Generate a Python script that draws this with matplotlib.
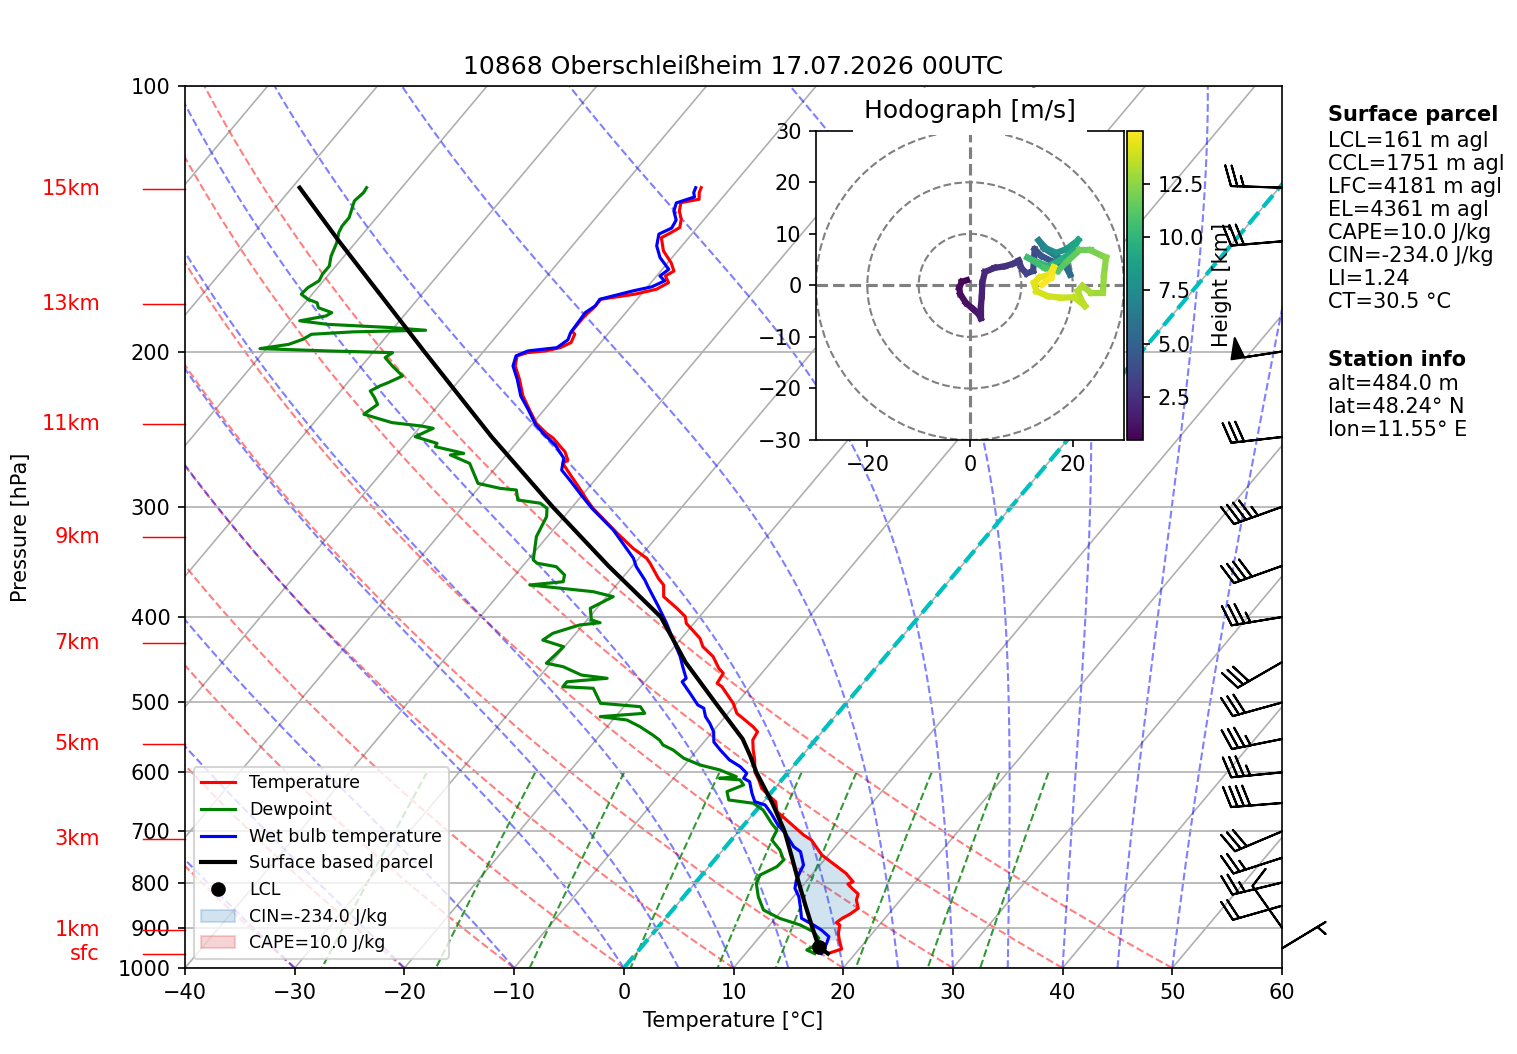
import numpy as np
import matplotlib
matplotlib.use('Agg')
import matplotlib.pyplot as plt
from matplotlib.transforms import Affine2D, blended_transform_factory
from matplotlib.collections import LineCollection
from matplotlib.ticker import FixedLocator, ScalarFormatter, NullLocator, MultipleLocator
from matplotlib.patches import Patch, Circle

# ---------------- data ----------------
title = '10868 Oberschleißheim 17.07.2026 00UTC'

# Temperature profile (hPa, degC)
temp_p = [963, 951.6, 929.5, 913.4, 893.9, 888.5, 878.4, 868.6, 855.8, 837.4, 824.4, 812.2, 803.2, 798.4,
          781.0, 767.6, 744.5, 716.0, 706.6, 676.5, 664.9, 647.7, 639.3, 625.5, 612.0, 598.9, 580.9, 566.0,
          551.5, 539.7, 532.6, 514.3, 501.0, 479.8, 475.5, 463.3, 457.2, 443.6, 432.2, 422.9, 406.6, 399.6,
          391.0, 379.3, 367.9, 361.5, 347.6, 343.1, 334.3, 321.4, 301.2, 294.7, 288.4, 272.5, 267.8, 265.5,
          259.8, 256.4, 250.8, 247.6, 241.2, 233.6, 224.6, 215.0, 207.7, 202.3, 200.6, 199.7, 198.0, 195.4,
          191.2, 189.6, 182.3, 178.4, 174.5, 172.2, 170.0, 167.1, 164.2, 162.1, 158.6, 153.8, 148.6, 146.6,
          144.7, 141.6, 138.6, 135.6, 134.4, 132.1, 130.4]
temp_t = [17.5, 18.4, 17.5, 16.9, 16.4, 15.9, 16.1, 16.5, 16.8, 16.0, 15.7, 14.7, 14.0, 14.3,
          13.0, 11.7, 9.4, 7.3, 6.2, 3.2, 2.0, 1.1, 0.2, -1.2, -2.1, -3.1, -4.0, -4.9,
          -5.7, -5.9, -6.7, -9.2, -10.3, -12.6, -13.3, -13.5, -14.3, -15.7, -17.4, -18.3, -20.7, -21.3,
          -22.7, -24.8, -25.7, -26.7, -28.6, -29.3, -31.3, -33.9, -38.0, -39.2, -40.3, -43.3, -44.2, -44.0,
          -44.9, -45.7, -47.0, -48.0, -49.7, -51.2, -53.0, -54.6, -56.0, -56.6, -55.9, -54.4, -53.3, -52.7,
          -53.0, -53.5, -53.5, -53.3, -53.3, -50.6, -49.0, -48.4, -49.2, -48.8, -49.7, -51.3, -52.5, -52.0,
          -51.6, -52.1, -52.9, -53.4, -52.0, -52.5, -52.7]

# Dewpoint profile
dew_p = [963, 954.1, 945.9, 925.4, 909.5, 893.9, 878.4, 859.6, 830.2, 801.7, 784.5, 767.6, 754.4, 735.0,
         716.0, 697.6, 685.5, 662.0, 650.5, 644.9, 631.0, 620.1, 612.0, 609.4, 606.8, 596.3, 588.6, 578.3,
         566.0, 558.7, 551.5, 544.3, 532.6, 523.4, 518.8, 514.3, 505.5, 501.0, 481.8, 479.8, 473.7, 469.4,
         465.4, 455.4, 451.3, 439.7, 432.2, 424.8, 417.4, 408.4, 406.0, 403.1, 391.0, 379.3, 374.4, 367.9,
         364.8, 358.4, 350.7, 347.6, 344.6, 324.3, 313.2, 307.8, 301.2, 297.2, 294.7, 287.1, 285.9, 282.2,
         267.8, 262.0, 260.9, 256.4, 254.2, 249.8, 244.4, 242.9, 240.8, 235.6, 229.6, 225.6, 221.7, 218.8,
         216.9, 213.2, 207.7, 203.2, 200.6, 199.7, 198.5, 196.3, 193.7, 191.2, 190.0, 189.2, 187.9, 186.3,
         184.6, 182.3, 180.7, 178.4, 176.1, 174.5, 172.2, 169.3, 166.3, 163.4, 160.0, 155.9, 150.6, 146.6,
         144.1, 141.0, 135.0, 132.1, 130.4]
dew_t = [16.3, 15.3, 15.6, 15.5, 14.5, 12.8, 10.4, 8.3, 6.8, 5.6, 5.3, 6.2, 6.3, 5.2,
         3.7, 3.4, 2.4, 0.6, -0.8, -3.3, -4.1, -3.1, -3.8, -5.8, -4.4, -6.4, -8.6, -10.6,
         -12.2, -13.5, -14.2, -15.2, -17.0, -18.7, -21.4, -17.6, -18.5, -22.4, -24.2, -27.1, -27.1, -23.7,
         -26.3, -28.6, -30.4, -30.2, -30.1, -32.5, -32.1, -30.3, -28.6, -29.6, -30.6, -29.4, -31.6, -37.9,
         -35.1, -35.5, -36.9, -38.9, -39.5, -41.0, -41.4, -41.6, -42.2, -43.2, -45.5, -46.4, -48.0, -50.4,
         -52.7, -55.1, -54.0, -57.1, -57.2, -59.7, -58.7, -60.0, -62.9, -66.1, -65.6, -66.4, -67.3, -66.8,
         -66.3, -65.5, -67.2, -68.5, -68.2, -74.2, -80.6, -78.3, -77.4, -77.0, -73.4, -66.9, -70.2, -76.3,
         -79.1, -77.1, -76.8, -78.4, -78.9, -80.0, -81.0, -80.9, -80.4, -80.6, -80.6, -81.2, -81.7, -82.3,
         -82.5, -82.5, -83.3, -83.1, -83.2]

# Wet bulb temperature profile
wb_p = [963, 937.6, 921.5, 905.5, 893.9, 878.4, 852.2, 830.2, 812.2, 794.9, 777.8, 764.3, 738.1, 728.6,
        703.5, 688.4, 668.0, 653.4, 647.7, 633.7, 614.8, 609.4, 601.5, 591.2, 580.9, 566.0, 554.3, 539.7,
        527.9, 518.8, 507.6, 503.2, 488.1, 473.7, 469.4, 455.4, 443.6, 424.8, 406.6, 389.4, 369.5, 363.1,
        350.7, 343.1, 318.7, 301.2, 290.9, 279.7, 272.5, 264.3, 255.3, 247.6, 241.8, 232.6, 224.6, 215.0,
        207.7, 202.3, 199.7, 198.0, 194.0, 190.4, 180.7, 177.5, 174.5, 170.7, 168.9, 166.3, 164.2, 161.4,
        156.5, 151.8, 147.2, 144.9, 141.9, 138.6, 135.7, 133.6, 132.1, 130.4]
wb_t = [16.9, 16.6, 16.3, 15.1, 14.0, 12.4, 11.4, 10.5, 9.5, 9.0, 8.7, 8.5, 7.2, 6.2,
        4.4, 3.1, 1.6, 0.4, -0.8, -1.7, -2.8, -3.6, -3.7, -4.8, -6.3, -7.9, -9.1, -9.9,
        -10.9, -11.8, -12.6, -13.4, -15.0, -16.6, -16.5, -17.7, -18.7, -20.6, -22.5, -24.5, -27.0, -27.8,
        -29.6, -30.5, -34.5, -38.1, -40.1, -42.3, -43.8, -44.5, -46.3, -48.3, -49.7, -51.5, -53.2, -54.8,
        -56.2, -56.7, -56.0, -53.6, -53.2, -53.5, -53.7, -53.3, -53.4, -51.0, -49.6, -48.9, -49.7, -49.4,
        -51.1, -52.3, -53.0, -52.3, -52.5, -53.4, -53.8, -52.6, -53.0, -53.2]

# Surface based parcel
parcel_p = [963, 947.4, 900, 850, 800, 750, 700, 650, 600, 575, 550, 500, 450, 400, 350, 300, 250, 200, 150, 130.4]
parcel_t = [17.5, 16.2, 14.1, 11.8, 9.4, 6.9, 4.2, 0.9, -2.9, -4.7, -6.7, -12.0, -17.8, -23.5, -32.2,
            -41.8, -52.7, -65.4, -81.6, -89.3]

lcl_p, lcl_t = 947.4, 16.2
lfc_p, el_p = 583.0, 570.0

# Wind barbs (knots)
barb_p = [950, 900, 850, 800, 750, 700, 650, 600, 550, 500, 450, 400, 350, 300, 250, 200, 150, 130.4]
barb_u = [-4.3, 5.8, 19.2, 24.3, 23.8, 27.7, 39.9, 34.8, 34.3, 28.9, 26.0, 34.5, 37.7, 42.4, 29.8, 49.4, 29.9, 25.0]
barb_v = [-2.6, -8.2, 5.5, 5.9, 7.7, 11.7, 3.2, 3.4, 6.9, 8.0, 15.0, 5.7, 13.5, 15.2, 3.4, 7.6, 2.5, -0.8]

# Height markers on the left
km_labels = ['sfc', '1km', '3km', '5km', '7km', '9km', '11km', '13km', '15km']
km_p = [962.9, 906.6, 715.0, 557.8, 428.6, 324.9, 241.9, 176.8, 130.9]

# Hodograph (m/s) and height (km)
hodo_h = [0.48, 0.6, 0.75, 0.9, 1.05, 1.2, 1.35, 1.5, 1.65, 1.8, 1.95, 2.1, 2.3, 2.5, 2.7, 2.9, 3.05, 3.2,
          3.5, 3.8, 4.1, 4.5, 4.9, 5.3, 5.7, 6.1, 6.5, 6.9, 7.3, 7.7, 8.1, 8.5, 8.9, 9.2, 9.5, 9.8, 10.1,
          10.4, 10.7, 11.0, 11.3, 11.6, 11.9, 12.2, 12.4, 12.6, 12.8, 13.0, 13.2, 13.3, 13.4, 13.5, 13.6,
          13.8, 13.95, 14.1, 14.25, 14.4, 14.55, 14.7, 14.85, 15.0]
hodo_u = [-0.6, -1.6, -2.1, -1.9, -0.8, 0.6, 1.7, 2.1, 2.1, 2.3, 2.4, 2.9, 4.8, 6.8, 8.4, 9.5, 10.0, 11.0,
          12.3, 12.6, 13.9, 16.1, 18.4, 19.5, 18.7, 16.5, 14.4, 13.4, 14.8, 16.8, 18.7, 20.0, 21.1, 19.7,
          17.7, 15.2, 12.9, 11.2, 14.5, 17.1, 19.0, 21.3, 23.5, 25.8, 26.5, 26.1, 25.9, 23.5, 21.9, 21.0,
          21.7, 22.4, 20.3, 17.7, 15.2, 12.9, 12.5, 13.5, 15.5, 16.3, 15.8, 14.0]
hodo_v = [1.0, 0.7, -0.5, -1.7, -3.4, -4.6, -5.6, -6.4, -4.3, -2.1, 0.5, 2.6, 3.4, 3.7, 4.2, 4.8, 3.4, 2.3,
          2.8, 7.0, 5.7, 4.6, 4.1, 2.1, 4.4, 5.9, 7.2, 8.7, 7.2, 6.3, 7.0, 7.9, 8.8, 6.3, 5.0, 3.7, 4.6,
          5.4, 3.4, 2.8, 4.7, 6.8, 6.8, 5.7, 5.4, 2.1, -1.4, -1.4, -0.1, -1.1, -2.9, -4.0, -2.3, -2.4,
          -2.1, -1.1, 0.5, 1.5, 2.1, 3.5, 1.5, 0.1]

surface_lines = ['LCL=161 m agl', 'CCL=1751 m agl', 'LFC=4181 m agl', 'EL=4361 m agl',
                 'CAPE=10.0 J/kg', 'CIN=-234.0 J/kg', 'LI=1.24', 'CT=30.5 °C']
station_lines = ['alt=484.0 m', 'lat=48.24° N', 'lon=11.55° E']
cape_label = 'CAPE=10.0 J/kg'
cin_label = 'CIN=-234.0 J/kg'

# Background line sets (standard skew-T furniture)
dry_t0 = np.arange(-50, 51, 10)
moist_t0 = np.concatenate((np.arange(-50, 0, 10), np.arange(0, 51, 5))).astype(float)
mix_w = np.array([0.0004, 0.001, 0.002, 0.004, 0.007, 0.01, 0.016, 0.024, 0.032])

# ---------------- figure ----------------
DPI = 150
W, H = 1517, 1054
fig = plt.figure(figsize=(W / DPI, H / DPI), dpi=DPI)


def rect(x0, y0, x1, y1):
    return [x0 / W, 1 - y1 / H, (x1 - x0) / W, (y1 - y0) / H]


ax = fig.add_axes(rect(185, 86, 1282, 968))
ax.set_yscale('log')
ax.set_xlim(-40, 60)
ax.set_ylim(1000, 100)
ax.yaxis.set_major_locator(FixedLocator(np.arange(100, 1001, 100)))
ax.yaxis.set_major_formatter(ScalarFormatter())
ax.yaxis.set_minor_locator(NullLocator())
ax.xaxis.set_major_locator(MultipleLocator(10))
ax.yaxis.grid(True, color='#b0b0b0', lw=0.8)

SKEW = 0.6754
skew_tr = ax.transScale + (ax.transLimits + Affine2D(np.array([[1., SKEW, 0.], [0., 1., 0.], [0., 0., 1.]]))) + ax.transAxes

# skewed isotherm grid
for t in range(-110, 61, 10):
    ax.plot([t, t], [1000, 100], color='#b0b0b0', lw=0.8, transform=skew_tr, zorder=1)

# dry adiabats
p_ad = np.linspace(1000, 100, 181)
segs = [np.column_stack([(t0 + 273.15) * (p_ad / 1000.) ** 0.28571 - 273.15, p_ad]) for t0 in dry_t0]
ax.add_collection(LineCollection(segs, colors='r', linestyles='dashed', alpha=0.5, linewidths=1,
                                 transform=skew_tr, zorder=1.1), autolim=False)

# moist adiabats
RD, LV, CPD, EPS = 287.04749, 2.50084e6, 1004.6662, 0.6219569


def _es(tk):
    tc = tk - 273.15
    return 6.112 * np.exp(17.67 * tc / (tc + 243.5))


def _dtdp(p, tk):
    e = _es(tk)
    rs = EPS * e / (p - e)
    return (RD * tk + LV * rs) / (CPD + LV * LV * rs * EPS / (RD * tk * tk)) / p


p_m = np.linspace(1000, 100, 451)
tk = moist_t0 + 273.15
prof = [tk]
for i in range(len(p_m) - 1):
    p0 = p_m[i]
    h = p_m[i + 1] - p0
    k1 = _dtdp(p0, tk)
    k2 = _dtdp(p0 + h / 2, tk + h / 2 * k1)
    k3 = _dtdp(p0 + h / 2, tk + h / 2 * k2)
    k4 = _dtdp(p0 + h, tk + h * k3)
    tk = tk + h / 6 * (k1 + 2 * k2 + 2 * k3 + k4)
    prof.append(tk)
prof = np.array(prof) - 273.15
segs = [np.column_stack([prof[:, j], p_m]) for j in range(prof.shape[1])]
ax.add_collection(LineCollection(segs, colors='b', linestyles='dashed', alpha=0.5, linewidths=1,
                                 transform=skew_tr, zorder=1.1), autolim=False)

# mixing ratio lines
p_mix = np.linspace(600, 1000, 50)
e_mix = p_mix[None, :] * mix_w[:, None] / (0.622 + mix_w[:, None])
lne = np.log(e_mix / 6.112)
td_mix = 243.5 * lne / (17.67 - lne)
segs = [np.column_stack([td_mix[j], p_mix]) for j in range(len(mix_w))]
ax.add_collection(LineCollection(segs, colors='g', linestyles='dashed', alpha=0.8, linewidths=1,
                                 transform=skew_tr, zorder=1.1), autolim=False)

# 0 degC isotherm
ax.plot([0, 0], [1000, 100], color='c', ls='--', lw=2, transform=skew_tr, zorder=1.5)

# CIN / CAPE shading
tp = np.array(temp_p)
tt = np.array(temp_t)
pp = np.array(parcel_p)
pt = np.array(parcel_t)
par_on_t = np.interp(-np.log(tp), -np.log(pp), pt)
sel = (tp <= lcl_p) & (tp >= lfc_p)
ax.fill_betweenx(tp[sel], par_on_t[sel], tt[sel], where=tt[sel] >= par_on_t[sel], interpolate=True,
                 color='tab:blue', alpha=0.2, lw=0, transform=skew_tr, zorder=1.8)
sel2 = (tp <= lfc_p + 15) & (tp >= el_p - 15)
ax.fill_betweenx(tp[sel2], par_on_t[sel2], tt[sel2], where=par_on_t[sel2] > tt[sel2], interpolate=True,
                 color='tab:red', alpha=0.2, lw=0, transform=skew_tr, zorder=1.8)

# profiles
l_t, = ax.plot(temp_t, temp_p, color='r', lw=1.5, transform=skew_tr)
l_td, = ax.plot(dew_t, dew_p, color='g', lw=1.5, transform=skew_tr)
l_wb, = ax.plot(wb_t, wb_p, color='b', lw=1.5, transform=skew_tr)
l_par, = ax.plot(parcel_t, parcel_p, color='k', lw=2, transform=skew_tr)
l_lcl, = ax.plot([lcl_t], [lcl_p], 'ko', ms=6, transform=skew_tr)

# wind barbs at right edge
bt = blended_transform_factory(ax.transAxes, ax.transData)
ax.barbs(np.ones(len(barb_p)), barb_p, barb_u, barb_v, transform=bt, clip_on=False, length=7, zorder=5)

# height markers
for lab, pk in zip(km_labels, km_p):
    ax.text(-0.0775, pk, lab, transform=bt, ha='right', va='center', color='red', fontsize=10, clip_on=False)
    ax.plot([-0.0383, 0], [pk, pk], transform=bt, color='red', lw=0.7, clip_on=False)

ax.set_title(title)
ax.set_xlabel('Temperature [°C]')
ax.set_ylabel('Pressure [hPa]')
ax.yaxis.set_label_coords(-0.1400, 0.5)

handles = [l_t, l_td, l_wb, l_par, l_lcl,
           Patch(color='tab:blue', alpha=0.2), Patch(color='tab:red', alpha=0.2)]
labels = ['Temperature', 'Dewpoint', 'Wet bulb temperature', 'Surface based parcel', 'LCL',
          cin_label, cape_label]
ax.legend(handles, labels, loc='lower left', fontsize='small')

# ---------------- hodograph ----------------
hax = fig.add_axes(rect(816, 130.7, 1124, 440))
hax.set_xlim(-30, 30)
hax.set_ylim(-30, 30)
for r in (10, 20, 30):
    hax.add_patch(Circle((0, 0), r, fill=False, color='grey', ls='--', lw=1))
hax.axhline(0, color='grey', ls='--')
hax.axvline(0, color='grey', ls='--')
hu = np.array(hodo_u)
hv = np.array(hodo_v)
hh = np.array(hodo_h)
norm = plt.Normalize(hh.min(), hh.max())
pts = np.column_stack([hu, hv])
hsegs = np.stack([pts[:-1], pts[1:]], axis=1)
lc = LineCollection(hsegs, cmap='viridis', norm=norm, linewidths=3, zorder=3, capstyle='projecting')
lc.set_array(0.5 * (hh[:-1] + hh[1:]))
hax.add_collection(lc)
hax.set_title('Hodograph [m/s]', bbox=dict(facecolor='white', edgecolor='none', pad=5.5))

cax = fig.add_axes(rect(1126.7, 130.7, 1142.7, 440))
cb = fig.colorbar(lc, cax=cax)
cb.set_ticks([2.5, 5.0, 7.5, 10.0, 12.5])
cb.set_ticklabels(['2.5', '5.0', '7.5', '10.0', '12.5'])
cb.set_label('Height [km]')

# ---------------- text panel ----------------
tx = 1327.5 / W
fig.text(tx, 1 - 120.7 / H, 'Surface parcel', fontsize=10, weight='bold', va='baseline')
for i, s in enumerate(surface_lines):
    fig.text(tx, 1 - (146.7 + 23.1 * i) / H, s, fontsize=10, va='baseline')
fig.text(tx, 1 - 366 / H, 'Station info', fontsize=10, weight='bold', va='baseline')
for i, s in enumerate(station_lines):
    fig.text(tx, 1 - (390 + 22.8 * i) / H, s, fontsize=10, va='baseline')

fig.savefig('out.png', dpi=DPI)
